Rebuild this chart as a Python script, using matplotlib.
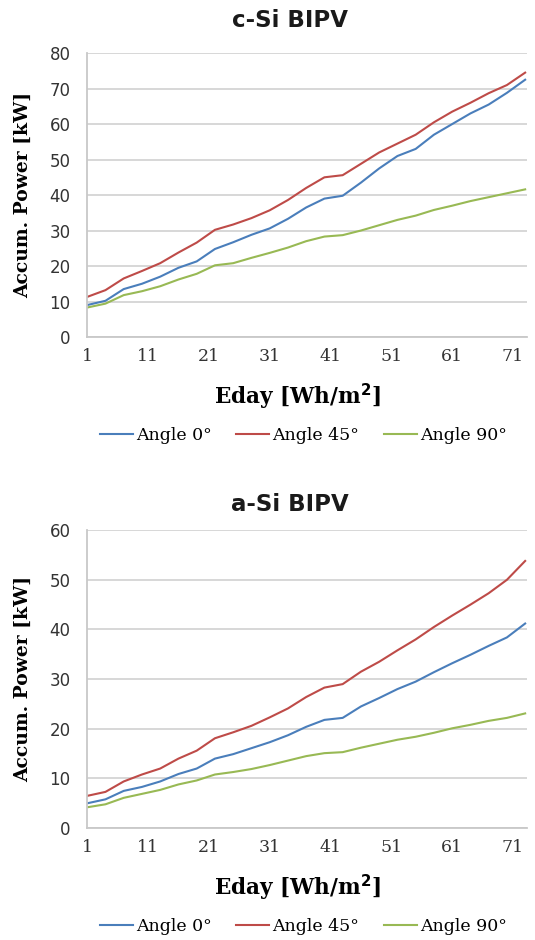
import matplotlib.pyplot as plt
import numpy as np

days = [1, 4, 7, 10, 13, 16, 19, 22, 25, 28, 31, 34, 37, 40, 43, 46, 49, 52, 55, 58, 61, 64, 67, 70, 73]
series_names = ['Angle 0°', 'Angle 45°', 'Angle 90°']

# c-Si BIPV
csi_0 = [9.0, 10.2, 13.5, 15.0, 17.0, 19.5, 21.3, 24.8, 26.7, 28.8, 30.6, 33.3, 36.5, 39.0, 39.8,
         43.5, 47.5, 51.0, 53.0, 57.0, 60.0, 63.0, 65.5, 68.8, 72.5]
csi_45 = [11.3, 13.2, 16.5, 18.6, 20.8, 23.8, 26.6, 30.2, 31.7, 33.5, 35.7, 38.6, 42.0, 45.0, 45.6,
          48.8, 52.0, 54.5, 57.0, 60.5, 63.5, 66.0, 68.7, 71.0, 74.5]
csi_90 = [8.3, 9.4, 11.8, 12.9, 14.3, 16.2, 17.8, 20.2, 20.8, 22.3, 23.7, 25.2, 27.0, 28.3, 28.7,
          30.0, 31.5, 33.0, 34.2, 35.8, 37.0, 38.3, 39.4, 40.5, 41.6]

# a-Si BIPV
asi_0 = [5.0, 5.8, 7.5, 8.3, 9.4, 10.9, 12.0, 14.0, 14.9, 16.1, 17.3, 18.7, 20.4, 21.8, 22.2,
         24.5, 26.2, 28.0, 29.5, 31.4, 33.2, 34.9, 36.7, 38.4, 41.2]
asi_45 = [6.5, 7.3, 9.4, 10.8, 12.0, 14.0, 15.6, 18.1, 19.3, 20.6, 22.3, 24.1, 26.4, 28.3, 29.0,
          31.5, 33.5, 35.8, 38.0, 40.5, 42.8, 45.0, 47.3, 50.0, 53.8]
asi_90 = [4.2, 4.8, 6.1, 6.9, 7.7, 8.8, 9.6, 10.8, 11.3, 11.9, 12.7, 13.6, 14.5, 15.1, 15.3,
          16.2, 17.0, 17.8, 18.4, 19.2, 20.1, 20.8, 21.6, 22.2, 23.1]

xticks = [1, 11, 21, 31, 41, 51, 61, 71]

colors = ['#4a7ebb', '#be4b48', '#98b954']

# === PLOT ===
fig = plt.figure(figsize=(5.35, 9.4), dpi=100)

# title, data, ymax, axes rect, title y, xlabel y, legend y
panels = [
    ('c-Si BIPV', [csi_0, csi_45, csi_90], 80, [0.163, 0.6415, 0.822, 0.302], 0.978, 0.578, 0.537),
    ('a-Si BIPV', [asi_0, asi_45, asi_90], 60, [0.163, 0.119, 0.822, 0.317], 0.463, 0.055, 0.014),
]

for title, data, ymax, rect, ty, xl_y, leg_y in panels:
    ax = fig.add_axes(rect)
    for vals, name, c in zip(data, series_names, colors):
        ax.plot(days, vals, color=c, lw=1.5, label=name)
    ax.set_xlim(1, 73.3)
    ax.set_ylim(0, ymax)
    ax.set_yticks(np.arange(0, ymax + 1, 10))
    ax.set_xticks(xticks)
    ax.grid(axis='y', color='#d4d4d4', lw=1.3)
    ax.set_axisbelow(True)
    for s in ['top', 'right']:
        ax.spines[s].set_visible(False)
    for s in ['left', 'bottom']:
        ax.spines[s].set_color('#c8c8c8')
        ax.spines[s].set_linewidth(1.3)
    ax.tick_params(axis='y', length=0, pad=12)
    ax.tick_params(axis='x', length=0, pad=8)
    for lab in ax.get_yticklabels():
        lab.set_fontfamily('DejaVu Sans')
        lab.set_fontsize(12)
        lab.set_color('#333333')
    for lab in ax.get_xticklabels():
        lab.set_fontfamily('DejaVu Serif')
        lab.set_fontsize(12.5)
        lab.set_color('#333333')

    fig.text(0.542, ty, title, ha='center', va='center', fontsize=16.5, fontweight='bold',
             family='DejaVu Sans', color='#1a1a1a')
    fig.text(0.043, rect[1] + rect[3] / 2, 'Accum. Power [kW]', rotation=90, ha='center', va='center',
             fontsize=13.5, fontweight='bold', family='DejaVu Serif')
    fig.text(0.555, xl_y, 'Eday [Wh/m$^\\mathbf{2}$]', ha='center', va='center',
             fontsize=15.5, fontweight='bold', family='DejaVu Serif')
    fig.legend(handles=ax.get_lines(), loc='center', bbox_to_anchor=(0.567, leg_y), ncol=3, frameon=False,
               prop={'family': 'DejaVu Serif', 'size': 12.5}, handlelength=1.9, handletextpad=0.2,
               columnspacing=1.4)

fig.savefig('out.png', dpi=100)
